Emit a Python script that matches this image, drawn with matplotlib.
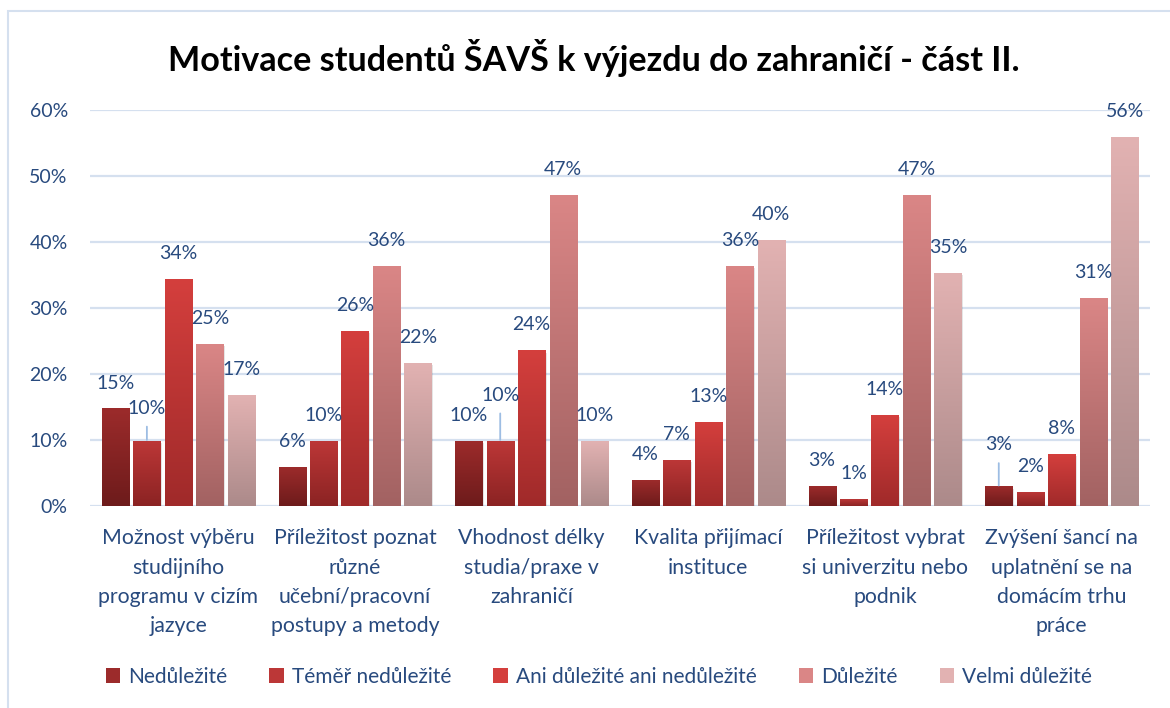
import numpy as np
import matplotlib
matplotlib.use("Agg")
import matplotlib.pyplot as plt
from matplotlib.colors import LinearSegmentedColormap
from matplotlib.patches import Patch, Rectangle

plt.rcParams['font.family'] = ['Lato', 'DejaVu Sans']

title = "Motivace studentů ŠAVŠ k výjezdu do zahraničí - část II."

categories = [
    "Možnost výběru\nstudijního\nprogramu v cizím\njazyce",
    "Příležitost poznat\nrůzné\nučební/pracovní\npostupy a metody",
    "Vhodnost délky\nstudia/praxe v\nzahraničí",
    "Kvalita přijímací\ninstituce",
    "Příležitost vybrat\nsi univerzitu nebo\npodnik",
    "Zvýšení šancí na\nuplatnění se na\ndomácím trhu\npráce",
]

series_names = ["Nedůležité", "Téměř nedůležité", "Ani důležité ani nedůležité",
                "Důležité", "Velmi důležité"]

# values in %, one list per series
nedulezite = [14.7, 5.9, 9.8, 3.9, 2.9, 2.9]
temer_nedulezite = [9.8, 9.8, 9.8, 6.9, 1.0, 2.0]
ani_ani = [34.3, 26.47, 23.5, 12.7, 13.7, 7.8]
dulezite = [24.51, 36.3, 47.1, 36.3, 47.1, 31.4]
velmi_dulezite = [16.7, 21.6, 9.8, 40.2, 35.3, 55.9]

yticks = [0, 10, 20, 30, 40, 50, 60]

#--- gradient colours (top, bottom) per series
grad_colors = [
    ("#9c2b2b", "#6d1b1b"),
    ("#bc3737", "#8b2323"),
    ("#d43f3d", "#a02a2a"),
    ("#da8686", "#a26262"),
    ("#e2b2b2", "#ac8a8a"),
]

text_color = "#284a7e"
grid_color = "#d5e0ef"

# extra lift (pt) for labels that got pushed up with a leader line
label_lift = {(0, 1): 5, (2, 1): 14.5, (5, 0): 11.5}


def main():
    series = [nedulezite, temer_nedulezite, ani_ani, dulezite, velmi_dulezite]

    fig = plt.figure(figsize=(11.7, 7.08), dpi=100)
    ax = fig.add_axes([90 / 1170, 202 / 708, 1060 / 1170, 396 / 708])

    # outer chart frame (cropped on the right and bottom)
    fig.patches.append(Rectangle((8 / 1170, -0.05), 1.1, (708 - 11) / 708 + 0.05,
                                 transform=fig.transFigure, fill=False,
                                 edgecolor=grid_color, linewidth=1.5))

    x = np.arange(len(categories))
    step = 0.178
    width = 0.153

    for i, vals in enumerate(series):
        pos = x + (i - 2) * step
        top_c, bot_c = grad_colors[i]
        cmap = LinearSegmentedColormap.from_list(f"g{i}", [bot_c, top_c])
        # soft shadow
        ax.bar(pos + 0.008, vals, width, bottom=-0.25, color="#000000", alpha=0.10,
               zorder=2, linewidth=0)
        bars = ax.bar(pos, vals, width, color=top_c, zorder=3, linewidth=0,
                      label=series_names[i])
        for j, b in enumerate(bars):
            x0, w, h = b.get_x(), b.get_width(), b.get_height()
            ax.imshow(np.linspace(1, 0, 128).reshape(-1, 1), cmap=cmap,
                      extent=(x0, x0 + w, 0, h), aspect="auto", origin="upper",
                      zorder=4, interpolation="bicubic")
            lift = label_lift.get((j, i), 0)
            arrow = None
            if lift:
                arrow = dict(arrowstyle="-", color="#9dbde3", lw=1.3,
                             shrinkA=5, shrinkB=1)
            ax.annotate(f"{int(h + 0.5)}%", xy=(x0 + w / 2, h),
                        xytext=(0, 18.7 + lift), textcoords="offset points",
                        ha="center", va="center", fontsize=14, color=text_color,
                        arrowprops=arrow, zorder=6)

    ax.set_xlim(-0.5, len(categories) - 0.5)
    ax.set_ylim(0, 60)
    ax.set_yticks(yticks)
    ax.set_yticklabels([f"{t}%" for t in yticks], fontsize=14, color=text_color)
    ax.set_xticks(x)
    ax.set_xticklabels(categories, fontsize=15.3, color=text_color, linespacing=1.58)
    ax.tick_params(axis="both", length=0)
    ax.tick_params(axis="y", pad=16)
    ax.tick_params(axis="x", pad=16)
    ax.grid(axis="y", color=grid_color, linewidth=1.6, zorder=0)
    ax.set_axisbelow(True)
    for s in ax.spines.values():
        s.set_visible(False)

    fig.text(594 / 1170, 1 - 58 / 708, title, ha="center", va="center",
             fontsize=24.6, fontweight="bold", color="black")

    handles = [Patch(facecolor=grad_colors[i][0], edgecolor="none") for i in range(5)]
    fig.legend(handles, series_names, loc="center", bbox_to_anchor=(599 / 1170, 31 / 708),
               ncol=5, frameon=False, fontsize=15, labelcolor=text_color,
               handlelength=0.7, handleheight=0.7, handletextpad=0.4, columnspacing=2.0)

    plt.savefig("out.png", dpi=100)
    plt.close()

    return


if __name__ == "__main__":
    main()
